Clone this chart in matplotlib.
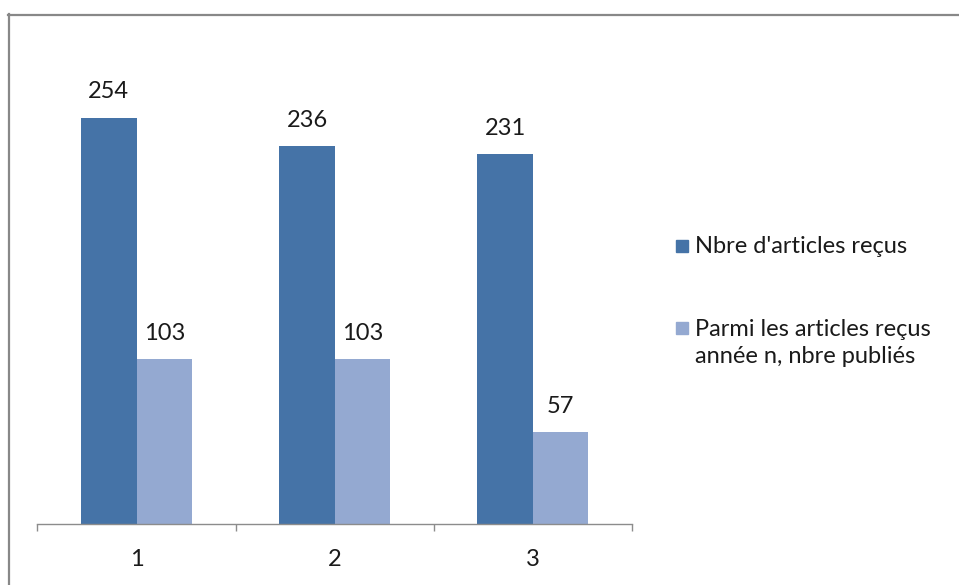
import matplotlib.pyplot as plt
from matplotlib.lines import Line2D
from matplotlib.patches import Rectangle
import numpy as np

plt.rcParams["font.family"] = ["Lato", "DejaVu Sans"]

categories = ["1", "2", "3"]
recus = [254, 236, 231]
publies = [103, 103, 57]
series_names = ["Nbre d'articles reçus", "Parmi les articles reçus\nannée n, nbre publiés"]
colors = ["#4573A7", "#94A9D1"]

W, H = 959, 585
FS = 17
fig = plt.figure(figsize=(W / 100, H / 100), dpi=100)

# axes placed in pixels to match the reference
left, right, base, top = 37.5, 632, 523.5, 14
ax = fig.add_axes([left / W, (H - base) / H, (right - left) / W, (base - top) / H])

x = np.arange(len(categories))
w = 0.28
b1 = ax.bar(x - w / 2, recus, w, color=colors[0])
b2 = ax.bar(x + w / 2, publies, w, color=colors[1])
ax.bar_label(b1, padding=11, fontsize=FS, color="#1a1a1a")
ax.bar_label(b2, padding=11, fontsize=FS, color="#1a1a1a")

ax.set_xlim(-0.5, len(categories) - 0.5)
ax.set_ylim(0, (base - top) / 1.598)

for s in ["top", "right", "left"]:
    ax.spines[s].set_visible(False)
ax.spines["bottom"].set_color("#8c8c8c")
ax.spines["bottom"].set_linewidth(1.0)
ax.set_yticks([])

# ticks at category boundaries, labels at centres
ax.set_xticks(np.arange(len(categories) + 1) - 0.5)
ax.set_xticklabels([])
ax.tick_params(axis="x", which="major", length=5, width=1.0, color="#8c8c8c")
ax.set_xticks(x, minor=True)
ax.set_xticklabels(categories, minor=True, fontsize=FS, color="#1a1a1a")
ax.tick_params(axis="x", which="minor", length=0, pad=18)

# legend drawn by hand
fig.patches.append(Rectangle((676 / W, 1 - 252 / H), 12 / W, 12 / H,
                             transform=fig.transFigure, color=colors[0]))
fig.text(695 / W, 1 - 246 / H, series_names[0], fontsize=FS, va="center",
         color="#1a1a1a")
fig.patches.append(Rectangle((676 / W, 1 - 334 / H), 12 / W, 12 / H,
                             transform=fig.transFigure, color=colors[1]))
fig.text(695 / W, 1 - 343 / H, series_names[1], fontsize=FS, va="center",
         color="#1a1a1a", linespacing=1.4)

# outer chart frame (only top and left edges visible)
fig.add_artist(Line2D([8.5 / W, 8.5 / W], [0, 1 - 14 / H], color="#888888",
                      lw=1.6, transform=fig.transFigure))
fig.add_artist(Line2D([8 / W, 1], [1 - 14.5 / H, 1 - 14.5 / H], color="#888888",
                      lw=1.6, transform=fig.transFigure))

fig.savefig("out.png", dpi=100)
